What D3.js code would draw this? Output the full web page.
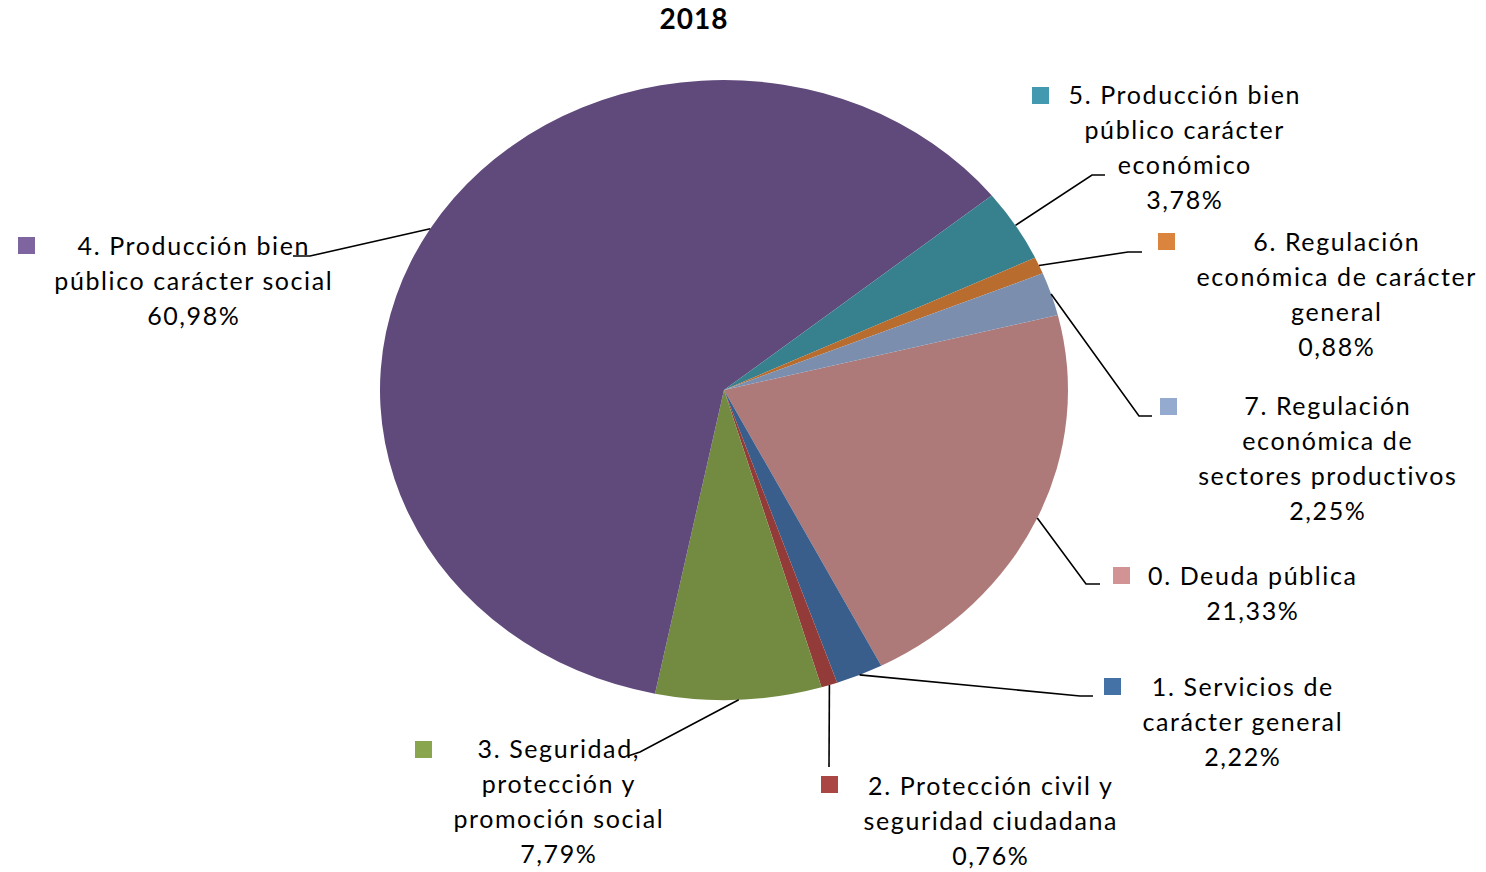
<!DOCTYPE html>
<html>
<head>
<meta charset="utf-8">
<script src="https://cdn.jsdelivr.net/npm/d3@7"></script>
<style>
  body { margin: 0; background: #fff; }
  svg text { font-family: Lato, "Open Sans", sans-serif; }
</style>
</head>
<body>
<div class="container"></div>
<script>
const w = 1486;
const h = 872;

// data
const title = "2018";
const categories = [
  "0. Deuda pública",
  "1. Servicios de carácter general",
  "2. Protección civil y seguridad ciudadana",
  "3. Seguridad, protección y promoción social",
  "4. Producción bien público carácter social",
  "5. Producción bien público carácter económico",
  "6. Regulación económica de carácter general",
  "7. Regulación económica de sectores productivos"
];
const values = [21.33, 2.22, 0.76, 7.79, 60.98, 3.78, 0.88, 2.25];
const valueLabels = ["21,33%", "2,22%", "0,76%", "7,79%", "60,98%", "3,78%", "0,88%", "2,25%"];

// colours: slice fill and legend-key fill
const sliceColors = ["#ad7a79", "#3a5e8c", "#933b38", "#738b41", "#604a7b", "#37818f", "#b86c2d", "#7b8eae"];
const keyColors = ["#d19393", "#4472a7", "#aa4643", "#89a54e", "#7f659f", "#4299b0", "#db843d", "#94aacf"];

// label layout (wrapping as drawn, text centre, first baseline, key square, leader elbow/end)
const labelLines = [
  ["0. Deuda pública"],
  ["1. Servicios de", "carácter general"],
  ["2. Protección civil y", "seguridad ciudadana"],
  ["3. Seguridad,", "protección y", "promoción social"],
  ["4. Producción bien", "público carácter social"],
  ["5. Producción bien", "público carácter", "económico"],
  ["6. Regulación", "económica de carácter", "general"],
  ["7. Regulación", "económica de", "sectores productivos"]
];
const labelLayout = [
  { tx: 1252, ty: 585, sq: [1113, 567], elbow: [1086, 584], end: [1100, 584] },
  { tx: 1242, ty: 696, sq: [1104, 678], elbow: [1080, 696], end: [1093, 696] },
  { tx: 990,  ty: 795, sq: [821, 776],  elbow: null,        end: [829, 767] },
  { tx: 558,  ty: 758, sq: [415, 741],  elbow: [640, 752],  end: [628, 756] },
  { tx: 193,  ty: 255, sq: [18, 237],   elbow: [310, 256],  end: [293, 256] },
  { tx: 1184, ty: 104, sq: [1032, 87],  elbow: [1092, 175], end: [1105, 175] },
  { tx: 1336, ty: 251, sq: [1158, 233], elbow: [1128, 252], end: [1142, 252] },
  { tx: 1327, ty: 415, sq: [1160, 398], elbow: [1139, 416], end: [1152, 416] }
];

const cx = 724, cy = 390, rx = 344, ry = 310;
const lineH = 35;
const startDeg = 76;
const spacing = 1.6;

const svg = d3.select(".container")
  .append("svg")
  .attr("width", w)
  .attr("height", h);

svg.append("text")
  .attr("x", 694)
  .attr("y", 29)
  .attr("text-anchor", "middle")
  .attr("font-size", 28)
  .attr("font-weight", "bold")
  .attr("letter-spacing", 1)
  .text(title);

const rows = categories.map((c, i) => ({ name: c, value: values[i], i }));

const a0 = startDeg * Math.PI / 180;
const pie = d3.pie()
  .sort(null)
  .value(d => d.value)
  .startAngle(a0)
  .endAngle(a0 + 2 * Math.PI);

const arcs = pie(rows);
const arc = d3.arc().innerRadius(0).outerRadius(rx);

svg.append("g")
  .attr("transform", `translate(${cx},${cy}) scale(1,${ry / rx})`)
  .selectAll("path")
  .data(arcs)
  .enter()
  .append("path")
  .attr("d", arc)
  .attr("fill", d => sliceColors[d.data.i]);

// leader lines from slice mid-point on the rim
const edge = d => {
  const a = (d.startAngle + d.endAngle) / 2;
  return [cx + Math.sin(a) * rx, cy - Math.cos(a) * ry];
};

svg.append("g")
  .selectAll("polyline")
  .data(arcs)
  .enter()
  .append("polyline")
  .attr("points", d => {
    const L = labelLayout[d.data.i];
    const pts = [edge(d)];
    if (L.elbow) pts.push(L.elbow);
    pts.push(L.end);
    return pts.map(p => p.join(",")).join(" ");
  })
  .attr("fill", "none")
  .attr("stroke", "#000")
  .attr("stroke-width", 1.6);

const labels = svg.append("g")
  .selectAll("g")
  .data(rows)
  .enter()
  .append("g");

labels.append("rect")
  .attr("x", d => labelLayout[d.i].sq[0])
  .attr("y", d => labelLayout[d.i].sq[1])
  .attr("width", 17)
  .attr("height", 17)
  .attr("fill", d => keyColors[d.i]);

labels.append("text")
  .attr("text-anchor", "middle")
  .attr("font-size", 25)
  .attr("letter-spacing", spacing)
  .attr("fill", "#000")
  .each(function (d) {
    const L = labelLayout[d.i];
    const lines = labelLines[d.i].concat([valueLabels[d.i]]);
    d3.select(this)
      .selectAll("tspan")
      .data(lines)
      .enter()
      .append("tspan")
      .attr("x", L.tx + spacing / 2)
      .attr("y", (t, k) => L.ty + k * lineH)
      .text(t => t);
  });
</script>
</body>
</html>
